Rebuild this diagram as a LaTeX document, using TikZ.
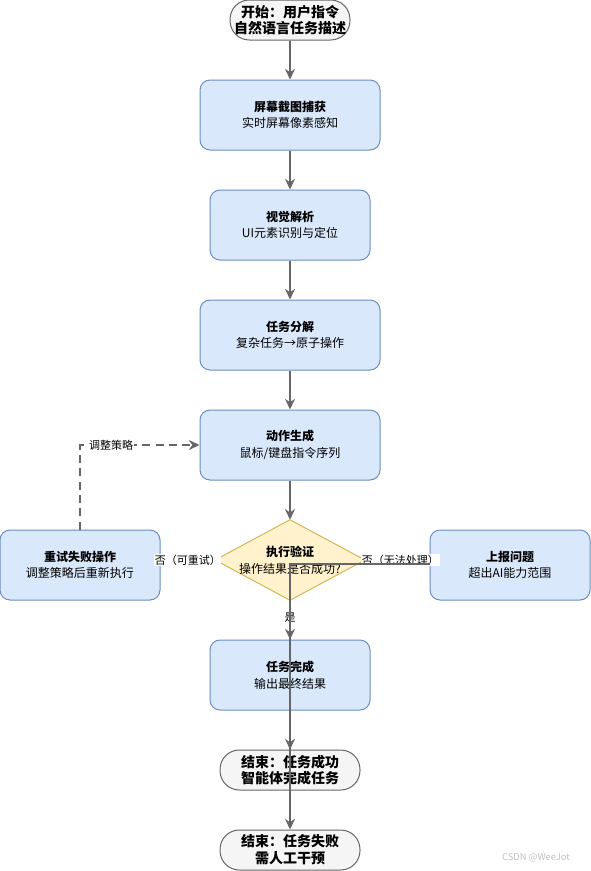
\documentclass[tikz,border=0pt]{standalone}
\usepackage{fontspec}
\setmainfont{Noto Sans CJK SC}
\usetikzlibrary{arrows.meta,backgrounds,calc}
\definecolor{procfill}{HTML}{DAE8FC}
\definecolor{procdraw}{HTML}{6C8EBF}
\definecolor{decfill}{HTML}{FFF2CC}
\definecolor{decdraw}{HTML}{D6B656}
\definecolor{termfill}{HTML}{F5F5F5}
\definecolor{termdraw}{HTML}{666666}
\definecolor{edgecol}{HTML}{666666}
\tikzset{
  proc/.style={rectangle, rounded corners=7.5pt, fill=procfill, draw=procdraw, line width=0.75pt,
    minimum width=135pt, minimum height=52.5pt, align=center, inner sep=2pt,
    font=\fontsize{9}{12.5}\selectfont},
  narrowproc/.style={proc, minimum width=120pt},
  term/.style={rectangle, rounded corners=14.5pt, fill=termfill, draw=termdraw, line width=0.75pt,
    minimum width=105pt, minimum height=30pt, align=center, inner sep=1pt,
    font=\fontsize{10.5}{12.5}\selectfont\bfseries},
  decbox/.style={rectangle, minimum width=112pt, minimum height=60pt, align=center, inner sep=0pt,
    font=\fontsize{9}{12.5}\selectfont},
  arrow/.style={draw=edgecol, line width=1.5pt, -{Stealth[length=8pt,width=7.5pt]}},
  lbl/.style={fill=white, inner sep=0.5pt, font=\fontsize{8.25}{10}\selectfont, text=black},
}
\begin{document}
\begin{tikzpicture}[x=0.75pt, y=-0.75pt]
\useasboundingbox (0,0) rectangle (591,871);

\node[term, minimum width=90pt] (start) at (290,20) {开始：用户指令\\自然语言任务描述};
\node[proc] (capture) at (290,115) {\textbf{屏幕截图捕获}\\实时屏幕像素感知};
\node[narrowproc] (vision) at (290,225) {\textbf{视觉解析}\\UI元素识别与定位};
\node[proc] (decomp) at (290,335) {\textbf{任务分解}\\复杂任务→原子操作};
\node[proc] (action) at (290,445) {\textbf{动作生成}\\鼠标/键盘指令序列};
\node[decbox] (verify) at (290,560) {\textbf{执行验证}\\操作结果是否成功?};
\begin{scope}[on background layer]
  \draw[fill=decfill, draw=decdraw, line width=0.75pt]
    (verify.north) -- (verify.east) -- (verify.south) -- (verify.west) -- cycle;
\end{scope}
\node[narrowproc] (retry) at (80,565) {\textbf{重试失败操作}\\调整策略后重新执行};
\node[narrowproc] (report) at (510,565) {\textbf{上报问题}\\超出AI能力范围};
\node[narrowproc] (done) at (290,675) {\textbf{任务完成}\\输出最终结果};
\node[term] (endok) at (290,770) {结束：任务成功\\智能体完成任务};
\node[term] (endfail) at (290,850) {结束：任务失败\\需人工干预};

\node[font=\fontsize{7}{8}\selectfont, text=black!25] (mark) at (536,858) {CSDN @WeeJot};

\draw[arrow] (start) -- (capture);
\draw[arrow] (capture) -- (vision);
\draw[arrow] (vision) -- (decomp);
\draw[arrow] (decomp) -- (action);
\draw[arrow] (action) -- (verify.north);
\draw[arrow] (verify.south) -- (done.north) node[lbl, pos=0.45] {是};
\draw[arrow] (done) -- (endok);
\draw[arrow] (verify.west) -- (retry.east |- verify.west) node[lbl, midway] {否（可重试）};
\draw[arrow] (verify.east) -- (report.west |- verify.east) node[lbl, pos=0.55] {否（无法处理）};
\draw[arrow, dashed, dash pattern=on 6pt off 4pt] (retry.north) |- (action.west)
  node[lbl, pos=0.63] {调整策略};
\draw[arrow] ($(report.west)+(0,-1)$) -| (endfail.north);
\end{tikzpicture}
\end{document}
